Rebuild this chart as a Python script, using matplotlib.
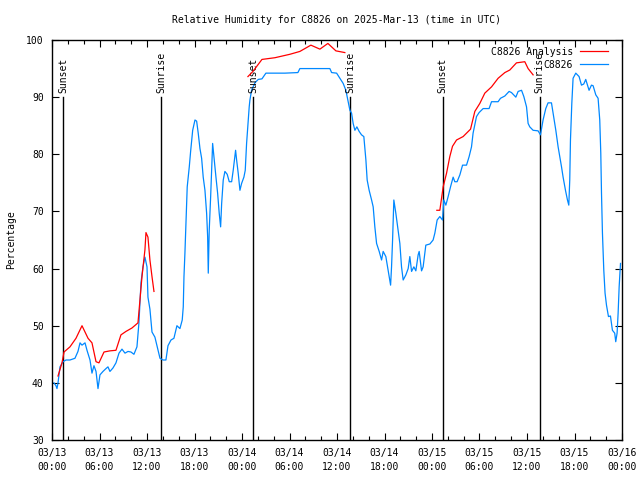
import numpy as np
import matplotlib
matplotlib.use("Agg")
import matplotlib.pyplot as plt
from matplotlib.ticker import MultipleLocator

# ---- data (hours since 2025-03-13 00:00 UTC) ----
obs_hours = [0.25, 0.5, 0.63, 0.76, 1.01, 1.39, 1.77, 2.27, 2.9, 3.28, 3.54, 3.79, 4.17, 4.42,
             4.8, 5.05, 5.3, 5.56, 5.81, 6.06, 6.44, 6.82, 7.07, 7.32, 7.7, 8.08, 8.46, 8.84,
             9.22, 9.6, 9.97, 10.35, 10.73, 10.98, 11.24, 11.49, 11.74, 12.0, 12.12, 12.37,
             12.63, 13.0, 13.26, 13.64, 14.02, 14.39, 14.65, 15.03, 15.4, 15.78, 16.16, 16.45,
             16.58, 16.67, 16.79, 16.92, 17.08, 17.34, 17.51, 17.77, 18.06, 18.27, 18.47, 18.69,
             18.9, 19.1, 19.32, 19.53, 19.66, 19.74, 19.86, 20.04, 20.29, 20.45, 20.71, 20.92,
             21.12, 21.3, 21.43, 21.63, 21.84, 22.13, 22.39, 22.69, 22.89, 23.19, 23.32, 23.52,
             23.74, 23.95, 24.24, 24.41, 24.58, 24.79, 24.91, 25.0, 25.21, 25.63, 26.05, 26.52,
             27.02, 27.9, 29.42, 31.06, 31.31, 33.42, 35.1, 35.32, 35.95, 36.36, 36.78, 37.12,
             37.41, 37.63, 37.84, 38.04, 38.26, 38.51, 38.8, 39.1, 39.39, 39.65, 39.81, 40.06,
             40.37, 40.57, 40.78, 41.0, 41.33, 41.63, 41.83, 42.17, 42.46, 42.77, 42.89, 43.02,
             43.18, 43.43, 43.72, 43.94, 44.15, 44.36, 44.7, 44.99, 45.2, 45.42, 45.71, 45.96,
             46.25, 46.38, 46.68, 46.88, 47.22, 47.73, 48.14, 48.36, 48.65, 48.99, 49.33, 49.49,
             49.75, 50.04, 50.34, 50.67, 50.88, 51.17, 51.52, 51.86, 52.36, 52.69, 52.99, 53.19,
             53.62, 53.95, 54.46, 55.21, 55.52, 56.35, 56.65, 57.2, 57.74, 58.04, 58.59, 58.88,
             59.31, 59.6, 59.94, 60.14, 60.35, 60.77, 61.4, 61.7, 62.03, 62.37, 62.66, 63.09,
             63.3, 63.64, 63.93, 64.36, 64.56, 64.86, 65.11, 65.28, 65.4, 65.49, 65.66, 65.82,
             66.16, 66.58, 66.88, 67.17, 67.42, 67.84, 68.14, 68.35, 68.69, 68.98, 69.19, 69.32,
             69.41, 69.53, 69.7, 69.86, 70.04, 70.29, 70.54, 70.79, 71.08, 71.21, 71.38, 71.51,
             71.64, 71.81]
obs_rh = [40, 39.5, 39, 40, 42.8, 43.7, 44, 44, 44.3, 45.5, 47, 46.6, 47, 45.7,
          44, 41.7, 43, 42, 39, 41.4, 42, 42.5, 42.8, 42, 42.6, 43.5, 45.2, 45.9,
          45.2, 45.5, 45.4, 45, 46.3, 50.5, 57.5, 60.3, 62, 60.3, 55, 52.9,
          48.9, 48, 46.5, 44.3, 44, 44, 46.5, 47.5, 47.8, 50, 49.5, 51,
          53.3, 58.6, 62.7, 68, 74.3, 77.8, 80.5, 84.2, 86, 85.8, 83.7, 81,
          79.3, 76, 73.7, 69.7, 65.6, 59.2, 66.7, 72.6, 81.9, 79.6, 76, 73.2,
          69.7, 67.3, 71.4, 75.5, 77, 76.5, 75.2, 75.2, 77.2, 80.7, 79, 76.7,
          73.7, 74.9, 76, 77.2, 81.9, 86, 88.3, 89.5, 91.2, 92.5, 93.1, 93.2,
          94.2, 94.2, 94.2, 94.3, 95, 95, 95, 94.3, 94.2, 93.3, 92.4, 91.2,
          89.2, 87.7, 87.2, 85.4, 84.2, 84.8, 84, 83.4, 83.1, 79, 75.5, 73.7,
          72, 70.8, 67.3, 64.4, 63, 61.5, 63, 62.1, 59.7, 57.1, 60.3, 65,
          72, 69.7, 66.7, 64.4, 60.3, 58, 58.9, 60, 62.1, 59.5, 60.3, 59.6,
          62.4, 63, 59.6, 60.3, 64.1, 64.3, 65, 66.2, 68.5, 69.1, 68.5, 72,
          71.1, 72.6, 74.3, 76, 75.2, 75.2, 76.4, 78.1, 78.1, 79.6, 81.3, 83.7,
          86.6, 87.3, 88, 88, 89.2, 89.2, 89.8, 90.2, 91, 90.8, 90, 91,
          91.2, 90.1, 88.3, 85.4, 84.8, 84.2, 84.1, 83.4, 86, 88, 89, 89,
          87.2, 84.2, 81.3, 77.8, 76, 73.7, 72, 71.1, 75.5, 82.5, 88.9, 93.3,
          94.2, 93.6, 92.1, 92.3, 93.1, 91.2, 92.1, 92, 90.4, 89.8, 86, 80.2,
          73.2, 66.2, 59.7, 55.7, 53.6, 51.6, 51.7, 49.2, 48.7, 47.2, 48.7, 52.2,
          56.8, 60.9]

ana_hours = [0.76, 1.26, 1.52, 2.27, 3.03, 3.79, 4.55, 5.05, 5.56, 5.93, 6.57, 7.32, 8.08,
             8.71, 9.34, 10.1, 10.86, 11.11, 11.36, 11.74, 11.87, 12.12, 12.37, 12.63, 12.88,
             np.nan,
             24.75, 25.38, 26.52, 28.16, 30.05, 31.31, 32.7, 33.84, 34.85, 35.86, 36.99,
             np.nan,
             48.61, 48.99, 49.41, 49.84, 50.25, 50.59, 51.1, 51.93, 52.87, 53.41, 54.04,
             54.67, 55.52, 56.35, 57.2, 57.83, 58.67, 59.72, 60.14, 60.77]
ana_rh = [41.2, 43.5, 45.4, 46.3, 47.8, 50, 47.8, 47, 43.7, 43.5, 45.4, 45.6, 45.7,
          48.4, 49, 49.6, 50.5, 54.5, 58.5, 63.3, 66.3, 65.5, 61.5, 58.6, 56,
          np.nan,
          93.6, 94.5, 96.6, 96.9, 97.5, 98, 99.1, 98.4, 99.4, 98.1, 97.8,
          np.nan,
          70.2, 70.2, 74.3, 76.7, 79.6, 81.4, 82.5, 83.1, 84.4, 87.5, 88.9,
          90.7, 91.8, 93.3, 94.3, 94.75, 96, 96.2, 95, 93.9]

sun_hours = [1.39, 13.76, 25.38, 37.63, 49.37, 61.62]
sun_labels = ["Sunset", "Sunrise", "Sunset", "Sunrise", "Sunset", "Sunrise"]

xtick_hours = [0, 6, 12, 18, 24, 30, 36, 42, 48, 54, 60, 66, 72]
xtick_labels = ["03/13\n00:00", "03/13\n06:00", "03/13\n12:00", "03/13\n18:00",
                "03/14\n00:00", "03/14\n06:00", "03/14\n12:00", "03/14\n18:00",
                "03/15\n00:00", "03/15\n06:00", "03/15\n12:00", "03/15\n18:00",
                "03/16\n00:00"]

# ---- plot ----
plt.rcParams['font.family'] = ['DejaVu Sans Mono']
FS = 7
fig = plt.figure(figsize=(6.4, 4.8), dpi=100)
ax = fig.add_axes([52/640, 40/480, 570/640, 400/480])

for h, lab in zip(sun_hours, sun_labels):
    ax.plot([h, h], [30, 90], color='black', lw=1.0, zorder=1)
    ax.text(h, 90.7, lab, rotation=90, ha='center', va='bottom', fontsize=FS)

ax.plot(ana_hours, ana_rh, color='#ff0000', lw=0.9, label='C8826 Analysis', zorder=3)
ax.plot(obs_hours, obs_rh, color='#0088ff', lw=0.9, label='C8826', zorder=2)

ax.set_xlim(0, 72)
ax.set_ylim(30, 100)
ax.set_xticks(xtick_hours)
ax.set_xticklabels(xtick_labels, fontsize=FS, linespacing=1.5)
ax.xaxis.set_minor_locator(MultipleLocator(2))
ax.set_yticks(range(30, 101, 10))
ax.tick_params(axis='y', labelsize=FS)
ax.tick_params(which='major', direction='in', length=5, width=0.8, top=True, right=True, pad=6)
ax.tick_params(which='minor', direction='in', length=3, width=0.8, top=True, right=False)
ax.tick_params(axis='y', which='minor', left=False, right=False)
for s in ax.spines.values():
    s.set_linewidth(1.0)

ax.set_title("Relative Humidity for C8826 on 2025-Mar-13 (time in UTC)", fontsize=FS, pad=12)
ax.set_ylabel("Percentage", fontsize=FS, labelpad=7)

ax.legend(loc='upper right', bbox_to_anchor=(1 - 10/570, 1 - 3/400),
          frameon=False, markerfirst=False, fontsize=FS,
          handlelength=2.9, handletextpad=0.7, borderaxespad=0.1, borderpad=0.3,
          labelspacing=0.3)

fig.savefig("out.png", dpi=100)
